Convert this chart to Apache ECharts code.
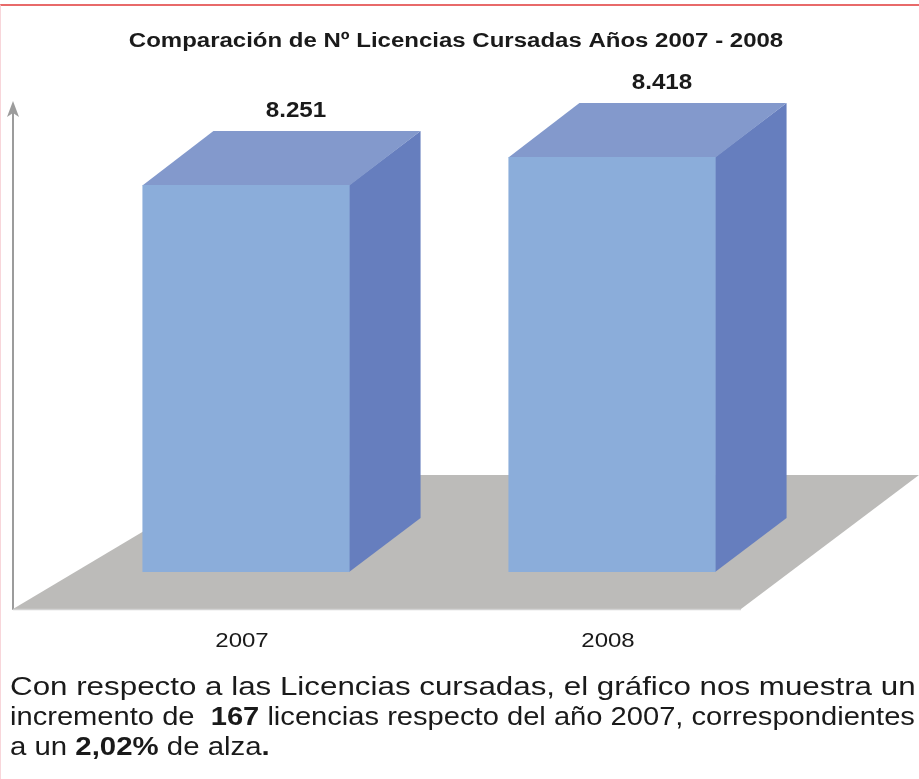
<!DOCTYPE html>
<html>
<head>
<meta charset="utf-8">
<title>Comparación de Nº Licencias Cursadas</title>
<script src="https://cdn.jsdelivr.net/npm/echarts@6/dist/echarts.min.js"></script>
<style>
  html, body { margin: 0; padding: 0; background: #fff; }
  #chart {
    width: 918px;
    height: 773px;
    border-top: 2px solid #e86a6a;
    border-left: 1px solid #f8d6da;
    margin-top: 4px;
  }
</style>
</head>
<body>
<div id="chart"></div>
<script>
// datos del gráfico
const years = ['2007', '2008'];
const licencias = [8251, 8418];
const yMin = 5720;
const yMax = 8710;

// estilos de las barras 3D
const FRONT = '#8badda';
const SIDE = '#667ebe';
const TOP = '#8399cc';
const FLOOR = '#bcbbb9';
const DEPTH_X = 71;   // profundidad hacia la derecha
const DEPTH_Y = -54;  // profundidad hacia arriba
const INSET = 37;     // barras apoyadas dentro del piso
const FONT = '"Liberation Sans", Arial, sans-serif';

function fmt(v) {
  // separador de miles con punto
  return String(v).replace(/\B(?=(\d{3})+(?!\d))/g, '.');
}

const chart = echarts.init(document.getElementById('chart'));

function renderFloor(params, api) {
  const cs = params.coordSys;
  const bottom = cs.y + cs.height;
  const top = bottom - 134;
  return {
    type: 'group',
    children: [
      {
        type: 'polygon',
        shape: {
          points: [
            [cs.x - 50, bottom],
            [cs.x + 678, bottom],
            [cs.x + 856, top],
            [cs.x + 175, top]
          ]
        },
        style: { fill: FLOOR }
      },
      {
        type: 'line',
        shape: { x1: cs.x - 50, y1: bottom + 0.5, x2: cs.x + 678, y2: bottom + 0.5 },
        style: { stroke: '#d2d2d2', lineWidth: 1.5 }
      }
    ]
  };
}

function renderBar(params, api) {
  const pt = api.coord([api.value(0), api.value(1)]);
  const gridBottom = api.coord([api.value(0), yMin])[1];
  const base = gridBottom - INSET;
  const band = api.size([1, 0])[0];
  const w = band * 0.566;
  const x0 = pt[0] - w / 2;
  const x1 = pt[0] + w / 2;
  const top = pt[1];
  return {
    type: 'group',
    children: [
      {
        type: 'polygon',
        shape: { points: [[x1 - 0.5, top], [x1 + DEPTH_X, top + DEPTH_Y], [x1 + DEPTH_X, base + DEPTH_Y], [x1 - 0.5, base]] },
        style: { fill: SIDE }
      },
      {
        type: 'polygon',
        shape: { points: [[x0, top + 0.5], [x1, top + 0.5], [x1 + DEPTH_X, top + DEPTH_Y], [x0 + DEPTH_X, top + DEPTH_Y]] },
        style: { fill: TOP }
      },
      {
        type: 'rect',
        shape: { x: x0, y: top, width: w, height: base - top },
        style: { fill: FRONT }
      },
      {
        // valor sobre la barra
        type: 'text',
        x: pt[0] + 50,
        y: top - 74,
        scaleX: 1.1,
        style: {
          text: fmt(api.value(1)),
          fill: '#1a1a1a',
          font: 'bold 22px ' + FONT,
          align: 'center',
          verticalAlign: 'middle'
        }
      },
      {
        // año bajo el piso
        type: 'text',
        x: pt[0] - 4,
        y: gridBottom + 32,
        scaleX: 1.2,
        style: {
          text: years[params.dataIndex],
          fill: '#1a1a1a',
          font: '20px ' + FONT,
          align: 'center',
          verticalAlign: 'middle'
        }
      }
    ]
  };
}

const option = {
  animation: false,
  grid: {
    left: 62,
    top: 102,
    width: 732,
    height: 501
  },
  xAxis: {
    type: 'category',
    data: years,
    axisLine: { show: false },
    axisTick: { show: false },
    axisLabel: { show: false }
  },
  yAxis: {
    type: 'value',
    min: yMin,
    max: yMax,
    offset: 50,
    splitLine: { show: false },
    axisLabel: { show: false },
    axisTick: { show: false },
    axisLine: {
      show: true,
      symbol: ['none', 'arrow'],
      symbolSize: [9, 16],
      symbolOffset: [0, 7],
      lineStyle: { color: '#9c9c9c', width: 2 }
    }
  },
  series: [
    {
      name: 'piso',
      type: 'custom',
      renderItem: renderFloor,
      data: [[0, yMin]],
      z: 1,
      silent: true
    },
    {
      name: 'Licencias',
      type: 'custom',
      renderItem: renderBar,
      data: licencias.map((v, i) => [i, v]),
      z: 2
    }
  ],
  graphic: [
    {
      type: 'text',
      x: 455,
      y: 35,
      scaleX: 1.2,
      style: {
        text: 'Comparación de Nº Licencias Cursadas Años 2007 - 2008',
        font: 'bold 20px ' + FONT,
        fill: '#1a1a1a',
        align: 'center',
        verticalAlign: 'middle'
      }
    },
    {
      type: 'text',
      x: 9,
      y: 669,
      scaleX: 1.205,
      style: {
        text: 'Con respecto a las Licencias cursadas, el gráfico nos muestra un',
        font: '26px ' + FONT,
        fill: '#1a1a1a'
      }
    },
    {
      type: 'text',
      x: 9,
      y: 699,
      scaleX: 1.12,
      style: {
        text: 'incremento de  {b|167} licencias respecto del año 2007, correspondientes',
        font: '26px ' + FONT,
        fill: '#1a1a1a',
        rich: { b: { fontWeight: 'bold', fontSize: 26, fontFamily: FONT } }
      }
    },
    {
      type: 'text',
      x: 9,
      y: 729,
      scaleX: 1.13,
      style: {
        text: 'a un {b|2,02%} de alza{b|.}',
        font: '26px ' + FONT,
        fill: '#1a1a1a',
        rich: { b: { fontWeight: 'bold', fontSize: 26, fontFamily: FONT } }
      }
    }
  ]
};

chart.setOption(option);
</script>
</body>
</html>
